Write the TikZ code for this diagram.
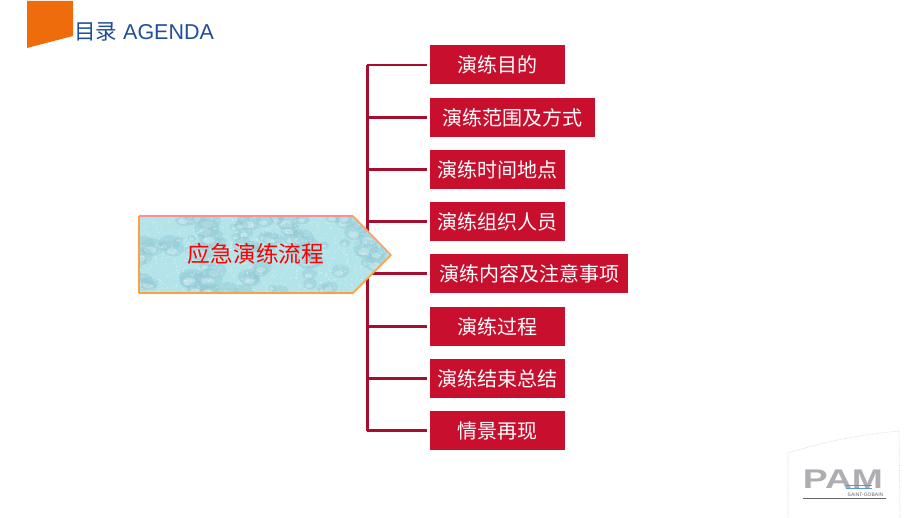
\documentclass[tikz,border=0pt]{standalone}
\usepackage{fontspec}
\setmainfont{Liberation Sans}
\newfontfamily\cjk{Noto Sans CJK SC}
\definecolor{boxred}{HTML}{C8102E}
\definecolor{linered}{HTML}{A50F2D}
\definecolor{titleblue}{HTML}{1F4E9A}
\definecolor{tabor}{HTML}{EE6C0C}
\definecolor{wateraq}{HTML}{B2E4EA}
\definecolor{drop}{HTML}{8FC8D4}
\definecolor{logogr}{HTML}{ADADB2}
\tikzset{
  itembox/.style={fill=boxred,draw=none,minimum height=39pt,inner sep=0pt,text=white,font=\cjk\fontsize{20}{20}\selectfont,anchor=west},
  branch/.style={draw=linered,line width=2.6pt,shorten >=3pt},
}
\begin{document}
\begin{tikzpicture}[x=1pt,y=-1pt]
\useasboundingbox (0,0) rectangle (920,518);
% tab and title
\fill[tabor] (27,1) -- (73,1) -- (73,36) -- (27,48) -- cycle;
\node[anchor=west,inner sep=0pt,text=titleblue,font=\fontsize{21.5}{22}\selectfont] (title) at (74,32) {{\cjk 目录} AGENDA};
% item boxes
\node[itembox,minimum width=135pt] (b1) at (430,65) {演练目的};
\node[itembox,minimum width=165pt] (b2) at (430,117.5) {演练范围及方式};
\node[itembox,minimum width=135pt] (b3) at (430,169.5) {演练时间地点};
\node[itembox,minimum width=135pt] (b4) at (430,221.5) {演练组织人员};
\node[itembox,minimum width=198pt] (b5) at (430,273.5) {演练内容及注意事项};
\node[itembox,minimum width=135pt] (b6) at (430,326.5) {演练过程};
\node[itembox,minimum width=135pt] (b7) at (430,378.5) {演练结束总结};
\node[itembox,minimum width=135pt] (b8) at (430,430.5) {情景再现};
% connectors
\coordinate (tk) at (367,0);
\draw[linered,line width=3pt] (tk|-b1.west) -- (tk|-b8.west);
\foreach \n in {b1,b2,b3,b4,b5,b6,b7,b8}
  \draw[branch] (tk|-\n.west) -- (\n.west);
% hub pentagon
\begin{scope}
  \clip (139,216) -- (353,216) -- (391,255) -- (353,293) -- (139,293) -- cycle;
  \fill[wateraq] (130,210) rectangle (395,300);
  \pgfmathsetseed{23}
  \foreach \i in {1,...,95}{
    \pgfmathsetmacro{\px}{139+rnd*252}
    \pgfmathsetmacro{\py}{216+rnd*77}
    \pgfmathsetmacro{\pr}{3+rnd*8}
    \fill[drop,opacity=.4] (\px,\py) ellipse[x radius=\pr*1.2,y radius=\pr*.9];
    \fill[white,opacity=.3] (\px-\pr*.2,\py+\pr*.3) ellipse[x radius=\pr*.6,y radius=\pr*.35];
  }
  \foreach \i in {1,...,700}{
    \pgfmathsetmacro{\px}{139+rnd*252}
    \pgfmathsetmacro{\py}{216+rnd*77}
    \fill[white,opacity=.55] (\px,\py) circle[radius=.6];
  }
\end{scope}
\draw[line width=1.6pt,draw=orange!75!white] (139,293) -- (353,293) -- (391,255);
\draw[line width=1.6pt,draw=orange!75!white] (139,293) -- (139,216);
\draw[line width=1.6pt,draw=red!25!pink] (139,216) -- (353,216);
\draw[line width=1.6pt,draw=orange!50!pink] (353,216) -- (391,255);
\node[inner sep=0pt,text=red,font=\cjk\fontsize{22.7}{23}\selectfont] (hub) at (256,254) {应急演练流程};
% logo
\draw[densely dotted,line width=.7pt,draw=black!16] (788,518) -- (788,453) .. controls (830,440) and (860,435) .. (899,431) -- (900,518);
\node[inner sep=0pt,text=logogr,font=\bfseries\fontsize{27}{27}\selectfont,anchor=base] (logo) at (843,488.5) {\pgfinterruptpicture\scalebox{1.38}[1]{PAM}\endpgfinterruptpicture};
\coordinate (waveL) at (846,485);
\coordinate (waveR) at (872,485);
\draw[cyan!60!blue!70,line width=.9pt] (waveL) -- (waveR) ([yshift=-3pt]waveL) -- ([yshift=-3pt]waveR);
\node[inner sep=0pt,text=black!60,font=\fontsize{5}{5}\selectfont,anchor=base] (logosub) at (865.5,496.8) {SAINT-GOBAIN};
\coordinate (ruleL) at (803,498.5);
\coordinate (ruleR) at (886,498.5);
\draw[black!60,line width=.6pt] (ruleL) -- (ruleR);
\end{tikzpicture}
\end{document}
